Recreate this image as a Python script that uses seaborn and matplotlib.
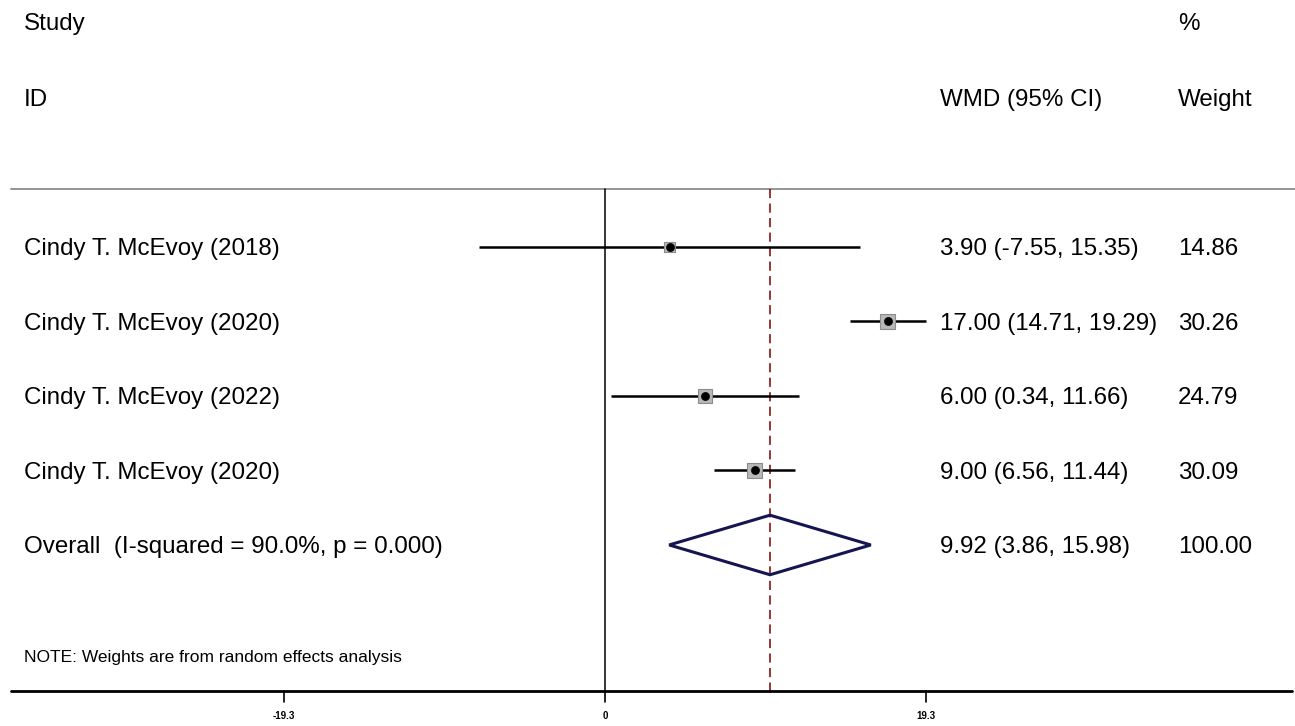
import numpy as np
import pandas as pd
import matplotlib
matplotlib.use('Agg')
import matplotlib.pyplot as plt
from matplotlib.patches import Polygon
import seaborn as sns

# data
studies = ['Cindy T. McEvoy (2018)', 'Cindy T. McEvoy (2020)',
           'Cindy T. McEvoy (2022)', 'Cindy T. McEvoy (2020)']
wmd = [3.90, 17.00, 6.00, 9.00]
ci_low = [-7.55, 14.71, 0.34, 6.56]
ci_high = [15.35, 19.29, 11.66, 11.44]
weights = [14.86, 30.26, 24.79, 30.09]

overall_label = 'Overall  (I-squared = 90.0%, p = 0.000)'
overall_wmd = 9.92
overall_low = 3.86
overall_high = 15.98
overall_weight = 100.00

tick_vals = [-19.3, 0, 19.3]
tick_labels = ['-19.3', '0', '19.3']
note = 'NOTE: Weights are from random effects analysis'

d = pd.DataFrame({'Study': studies, 'WMD': wmd, 'Low': ci_low,
                  'High': ci_high, 'Weight': weights})
d['row'] = np.arange(len(d))
overall_row = len(d)

sns.set_theme(style='white')
plt.rcParams['font.family'] = ['Liberation Sans', 'DejaVu Sans']
plt.rcParams['text.color'] = 'black'

fig = plt.figure(figsize=(12.95, 7.26), dpi=100)
ax = fig.add_axes([0, 0, 1, 1])
ax.set_xlim(-36.376, 41.486)
ax.set_ylim(6.43, -3.315)
ax.axis('off')

fs = 17.4
ytr = ax.get_yaxis_transform()
x_left, x_ci, x_w = 0.0185, 0.7259, 0.9097
tk = dict(transform=ytr, fontsize=fs, va='center_baseline', color='black')

# header
ax.text(x_left, -3.02, 'Study', **tk)
ax.text(x_left, -2.01, 'ID', **tk)
ax.text(x_ci, -2.01, 'WMD (95% CI)', **tk)
ax.text(x_w, -3.02, '%', **tk)
ax.text(x_w, -2.01, 'Weight', **tk)
ax.plot([0.0085, 1], [-0.78, -0.78], transform=ytr, color='#8c8c8c', lw=1.3)

# reference lines
ax.plot([0, 0], [-0.78, 5.96], color='black', lw=1.1)
ax.plot([overall_wmd, overall_wmd], [-0.78, 5.96], color='#7a0000', lw=1.1,
        dashes=(6, 3.5))

# confidence intervals
ax.hlines(d['row'], d['Low'], d['High'], color='black', lw=1.8, zorder=2)

# weight squares and point estimates
sns.scatterplot(data=d, x='WMD', y='row', size='Weight', sizes=(60, 120),
                size_norm=(min(weights), max(weights)), marker='s',
                color='#b8b8b8', edgecolor='#8c8c8c', linewidth=0.8,
                legend=False, ax=ax, zorder=3)
sns.scatterplot(data=d, x='WMD', y='row', s=34, color='black',
                edgecolor='black', legend=False, ax=ax, zorder=4)

# overall diamond
h = 0.4
diamond = Polygon([[overall_low, overall_row], [overall_wmd, overall_row - h],
                   [overall_high, overall_row], [overall_wmd, overall_row + h]],
                  closed=True, fill=False, edgecolor='#151552', lw=2.2, zorder=3)
ax.add_patch(diamond)

# row texts
for i, r in d.iterrows():
    ax.text(x_left, r['row'], r['Study'], **tk)
    ax.text(x_ci, r['row'], f"{r['WMD']:.2f} ({r['Low']:.2f}, {r['High']:.2f})", **tk)
    ax.text(x_w, r['row'], f"{r['Weight']:.2f}", **tk)

ax.text(x_left, overall_row, overall_label, **tk)
ax.text(x_ci, overall_row, f'{overall_wmd:.2f} ({overall_low:.2f}, {overall_high:.2f})', **tk)
ax.text(x_w, overall_row, f'{overall_weight:.2f}', **tk)

ax.text(x_left, 5.49, note, transform=ytr, fontsize=12.5, va='center_baseline',
        color='black')

# x axis
ax.plot([0.0085, 0.998], [5.96, 5.96], transform=ytr, color='black', lw=2)
for v, lab in zip(tick_vals, tick_labels):
    ax.plot([v, v], [5.96, 6.11], color='black', lw=1.2)
    ax.text(v, 6.30, lab, fontsize=7, fontweight='bold', ha='center',
            va='center', color='black')

plt.savefig('out.png', dpi=100)
plt.close()
